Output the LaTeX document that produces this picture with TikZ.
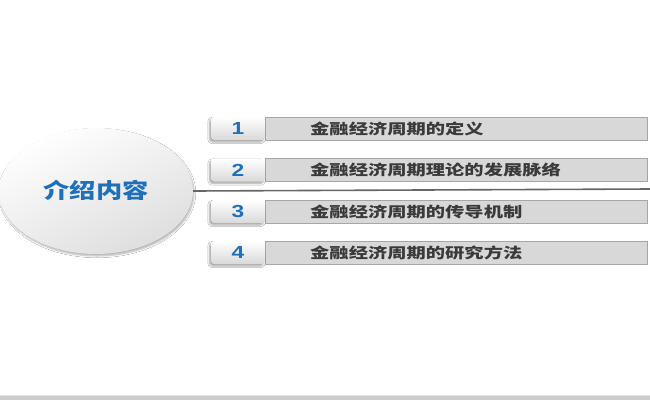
\documentclass[tikz,border=0pt]{standalone}
\usepackage{fontspec}
\newfontfamily\cjk{Noto Sans CJK SC}
\newfontfamily\numfont{Liberation Sans}
\usetikzlibrary{shadows.blur,shapes.geometric}
\definecolor{tblue}{HTML}{1E70BA}
\definecolor{tgray}{HTML}{3A3A3A}
\definecolor{barfill}{HTML}{D8D8D8}
\definecolor{baredge}{HTML}{A6A6A6}
\tikzset{
  bigcircle/.style={ellipse, minimum width=194pt, minimum height=126pt, inner sep=0pt,
    top color=white, bottom color=black!13, shading angle=25,
    blur shadow={shadow xshift=1pt, shadow yshift=-2pt, shadow blur steps=6, shadow opacity=30}},
  tab/.style={rectangle, rounded corners=3pt, minimum width=54pt, minimum height=23pt, inner sep=0pt,
    top color=white, bottom color=black!15,
    blur shadow={shadow xshift=-1.5pt, shadow yshift=-2pt, shadow blur steps=5, shadow opacity=35}},
  bar/.style={rectangle, minimum width=382pt, minimum height=23pt, inner sep=0pt,
    fill=barfill, draw=baredge, line width=0.8pt},
  numtext/.style={font=\numfont\bfseries\fontsize{17.5}{18}\selectfont, text=tblue},
  bartext/.style={font=\cjk\bfseries\fontsize{14.5}{15}\selectfont, text=tgray, anchor=west, inner sep=0pt},
}
\begin{document}
\begin{tikzpicture}[x=1pt,y=-1pt]
\useasboundingbox (0,0) rectangle (650,400);
\fill[white] (0,0) rectangle (650,400);
% bottom band
\fill[black!20] (0,396) rectangle (650,400);
\draw[black!10, line width=0.8pt] (0,395.5) -- (650,395.5);
% central ellipse
\node[bigcircle] (c) at (96,191) {};
\node[font=\cjk\bfseries\fontsize{21}{22}\selectfont, text=tblue] (ct) at (96,190) {\scalebox{1.25}[1]{介绍内容}};
\coordinate (lineend) at (650,189);
\draw[black!60, line width=1.6pt] (c.east) -- (lineend);
% rows
\foreach \i/\y/\t in {1/128.5/金融经济周期的定义, 2/170/金融经济周期理论的发展脉络, 3/211.5/金融经济周期的传导机制, 4/252.5/金融经济周期的研究方法}{
  \node[bar, anchor=west] (b\i) at (265,\y) {};
  \node[tab] (t\i) at (238,\y) {};
  \node[numtext] (n\i) at (t\i.center) {\scalebox{1.3}[1]{\i}};
  \node[bartext] (l\i) at (310,\y) {\scalebox{1.33}[1]{\t}};
}
\end{tikzpicture}
\end{document}
